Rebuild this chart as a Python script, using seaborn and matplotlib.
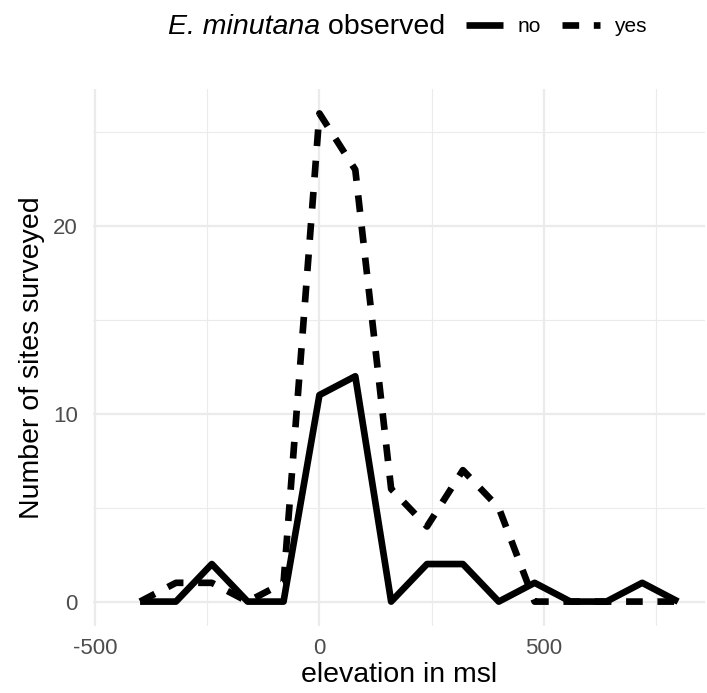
import numpy as np
import pandas as pd
import matplotlib
matplotlib.use("Agg")
import matplotlib.pyplot as plt
from matplotlib.lines import Line2D
import seaborn as sns

# ---- data ----
elevation = [-400, -320, -240, -160, -80, 0, 80, 160, 240, 320, 400, 480, 560, 640, 720, 800]
count_no = [0, 0, 2, 0, 0, 11, 12, 0, 2, 2, 0, 1, 0, 0, 1, 0]
count_yes = [0, 1, 1, 0, 1, 26, 23, 6, 4, 7, 5, 0, 0, 0, 0, 0]
observed_levels = ["no", "yes"]
x_ticks = [-500, 0, 500]
x_minor = [-250, 250, 750]
y_ticks = [0, 10, 20]
y_minor = [5, 15, 25]

df = pd.DataFrame({
    "elevation": elevation + elevation,
    "count": count_no + count_yes,
    "observed": ["no"] * len(elevation) + ["yes"] * len(elevation),
})

sns.set_theme(style="white")
plt.rcParams["font.family"] = ["Liberation Sans", "DejaVu Sans"]
plt.rcParams["text.color"] = "black"
plt.rcParams["axes.labelcolor"] = "black"

W, H = 707, 693
fig = plt.figure(figsize=(W / 100, H / 100), dpi=100)
ax = fig.add_axes([93 / W, 1 - 626 / H, (705 - 93) / W, (626 - 89) / H])

LW = 4.8
dash_yes = (2.5, 2.2)
sns.lineplot(data=df, x="elevation", y="count", style="observed",
             style_order=observed_levels, dashes={"no": "", "yes": dash_yes},
             color="black", linewidth=LW, estimator=None, ax=ax, legend=False)
for ln in ax.get_lines():
    ln.set_solid_capstyle("butt")
    ln.set_dash_capstyle("butt")
    ln.set_solid_joinstyle("round")

ax.set_xlim(-505, 860)
ax.set_ylim(-1.3, 27.3)
ax.set_xticks(x_ticks)
ax.set_xticks(x_minor, minor=True)
ax.set_yticks(y_ticks)
ax.set_yticks(y_minor, minor=True)
ax.set_xticklabels([str(v) for v in x_ticks])
ax.grid(which="major", color="#EBEBEB", linewidth=1.6)
ax.grid(which="minor", color="#EBEBEB", linewidth=0.8)
ax.set_axisbelow(True)
for s in ax.spines.values():
    s.set_visible(False)
ax.tick_params(which="both", length=0, labelsize=16, labelcolor="#4D4D4D")
ax.tick_params(axis="y", pad=11)
ax.tick_params(axis="x", pad=9)
ax.set_xlabel("elevation in msl", fontsize=20.5, color="black", labelpad=2)
ax.set_ylabel("Number of sites surveyed", fontsize=20.5, color="black", labelpad=6)

handles = [
    Line2D([], [], color="black", linewidth=LW, solid_capstyle="butt"),
    Line2D([], [], color="black", linewidth=LW, linestyle=(0, dash_yes), dash_capstyle="butt"),
]
fig.legend(handles, observed_levels, ncol=2, loc="center left",
           bbox_to_anchor=(447 / W, 1 - 27 / H), frameon=False,
           handlelength=1.8, fontsize=15, columnspacing=1.0, handletextpad=0.7,
           labelcolor="black")

# legend title: italic species name + regular word
ty = 1 - 27 / H
t2 = fig.text(445 / W, ty, " observed", ha="right", va="center", fontsize=20.5,
              color="black")
fig.canvas.draw()
bb = t2.get_window_extent(renderer=fig.canvas.get_renderer())
fig.text(bb.x0 / W, ty, "E. minutana", ha="right", va="center",
         fontsize=20.5, style="italic", color="black")

fig.savefig("out.png", dpi=100, facecolor="white")
